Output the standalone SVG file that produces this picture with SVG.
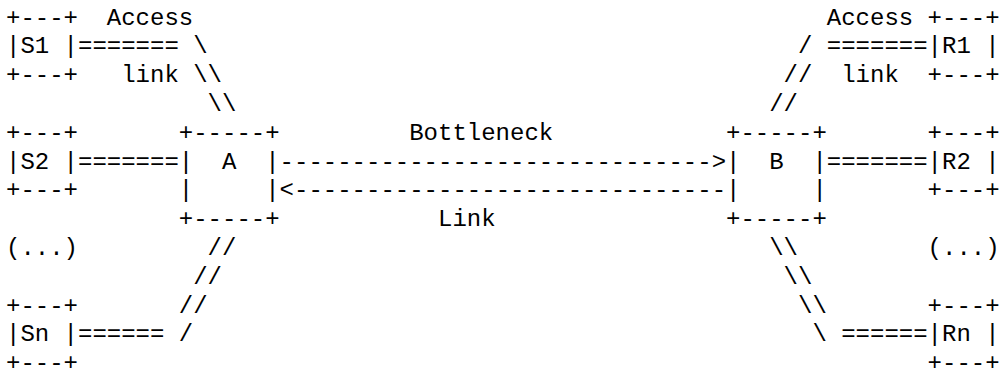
<svg xmlns="http://www.w3.org/2000/svg" width="1005" height="372" viewBox="0 0 1005 372" xml:space="preserve">
<style>
text{font-family:"Liberation Mono","Courier New",monospace;font-size:24px;fill:#000;white-space:pre}
</style>
<rect x="0" y="0" width="1005" height="372" fill="#fff"/>
<g id="connectors">
<text x="78" y="53.3">======= \</text>
<text x="193.2" y="82.1">\\</text>
<text x="207.6" y="110.9">\\</text>
<text x="78" y="168.5">=======</text>
<text x="279.6" y="168.5">------------------------------&gt;</text>
<text x="279.6" y="197.3">&lt;------------------------------</text>
<text x="207.6" y="254.9">//</text>
<text x="193.2" y="283.7">//</text>
<text x="178.8" y="312.5">//</text>
<text x="78" y="341.3">====== /</text>
<text x="798" y="53.3">/ =======</text>
<text x="783.6" y="82.1">//</text>
<text x="769.2" y="110.9">//</text>
<text x="826.8" y="168.5">=======</text>
<text x="769.2" y="254.9">\\</text>
<text x="783.6" y="283.7">\\</text>
<text x="798" y="312.5">\\</text>
<text x="812.4" y="341.3">\ ======</text>
</g>
<g id="labels">
<text x="106.8" y="24.5">Access</text>
<text x="121.2" y="82.1">link</text>
<text x="826.8" y="24.5">Access</text>
<text x="841.2" y="82.1">link</text>
<text x="409.2" y="139.7">Bottleneck</text>
<text x="438" y="226.1">Link</text>
</g>
<g id="S1">
<text x="6" y="24.5">+---+</text>
<text x="6" y="53.3">|S1 |</text>
<text x="6" y="82.1">+---+</text>
</g>
<g id="S2">
<text x="6" y="139.7">+---+</text>
<text x="6" y="168.5">|S2 |</text>
<text x="6" y="197.3">+---+</text>
</g>
<g id="S-more">
<text x="6" y="254.9">(...)</text>
</g>
<g id="Sn">
<text x="6" y="312.5">+---+</text>
<text x="6" y="341.3">|Sn |</text>
<text x="6" y="370.1">+---+</text>
</g>
<g id="A">
<text x="178.8" y="139.7">+-----+</text>
<text x="178.8" y="168.5">|  A  |</text>
<text x="178.8" y="197.3">|     |</text>
<text x="178.8" y="226.1">+-----+</text>
</g>
<g id="B">
<text x="726" y="139.7">+-----+</text>
<text x="726" y="168.5">|  B  |</text>
<text x="726" y="197.3">|     |</text>
<text x="726" y="226.1">+-----+</text>
</g>
<g id="R1">
<text x="927.6" y="24.5">+---+</text>
<text x="927.6" y="53.3">|R1 |</text>
<text x="927.6" y="82.1">+---+</text>
</g>
<g id="R2">
<text x="927.6" y="139.7">+---+</text>
<text x="927.6" y="168.5">|R2 |</text>
<text x="927.6" y="197.3">+---+</text>
</g>
<g id="R-more">
<text x="927.6" y="254.9">(...)</text>
</g>
<g id="Rn">
<text x="927.6" y="312.5">+---+</text>
<text x="927.6" y="341.3">|Rn |</text>
<text x="927.6" y="370.1">+---+</text>
</g>
</svg>
